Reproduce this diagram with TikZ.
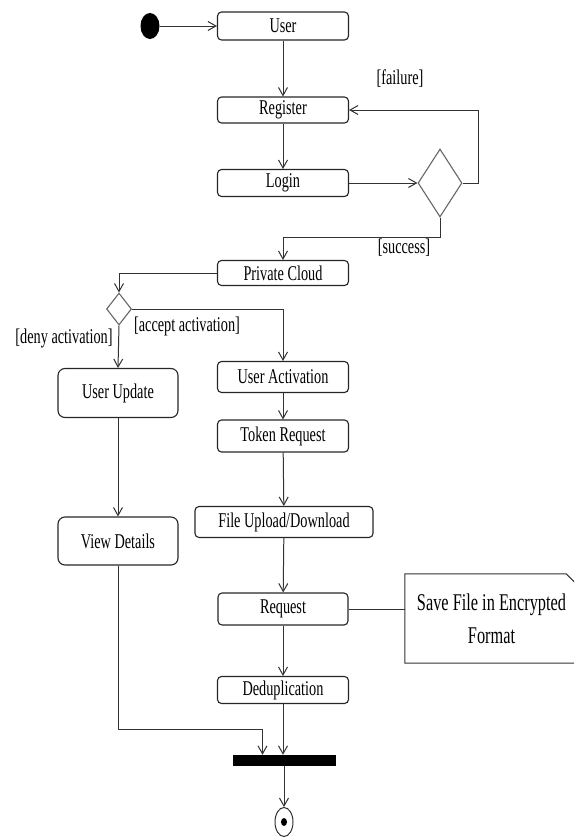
\documentclass[tikz,border=0pt]{standalone}
\usepackage{fontspec}
\setmainfont[FakeStretch=0.68]{Liberation Serif}
\usetikzlibrary{arrows.meta,shapes.geometric}
\newcommand{\boxfont}{\fontsize{21}{24}\selectfont}
\newcommand{\notefont}{\fontsize{24}{33}\selectfont}
\tikzset{
 every node/.append style={font=\boxfont,align=center},
 act/.style={draw=black!85,rounded corners=4pt,line width=1.1pt,inner sep=0pt,minimum width=131pt,minimum height=28pt},
 bigact/.style={act,rounded corners=7pt,minimum width=120pt,minimum height=49pt},
 choice/.style={diamond,draw=black!60,line width=1.1pt,inner sep=0pt,aspect=0.65},
 guard/.style={inner sep=1pt},
 flow/.style={-{Straight Barb[length=8pt,width=9pt]},draw=black!80,line width=1pt},
 link/.style={draw=black!80,line width=1pt},
}

\begin{document}
\begin{tikzpicture}[x=1pt,y=-1pt]
\clip (0,0) rectangle (574,838);

% start and main column
\node[ellipse,fill=black,minimum width=19pt,minimum height=26pt,inner sep=0pt] (start) at (150,26) {};
\node[act] (user) at (283,26) {User};
\node[act,minimum height=26pt] (register) at (283,110) {Register};
\node[act,minimum height=27pt] (login) at (283,183) {Login};
\node[choice,minimum width=44pt,minimum height=68pt] (check) at (440,183) {};
\node[act,minimum height=25pt] (cloud) at (283,273) {Private Cloud};

\draw[flow] (start) -- (user);
\draw[flow] (user) -- (register);
\draw[flow] (register) -- (login);
\draw[flow] (login) -- (check);
\draw[flow] (check.east) -- ++(16,0) |- (register.east);
\draw[flow] (check.south) -- ++(0,20) -| (cloud.north);
\node[guard] (failure) at (400,79) {[failure]};
\node[guard] (success) at (404,248) {[success]};

% activation decision
\node[choice,minimum width=25pt,minimum height=32pt] (activate) at (119,309) {};
\draw[flow] (cloud.west) -| (activate.north);
\node[guard] (accept) at (187,326) {[accept activation]};
\node[guard] (deny) at (64,338) {[deny activation]};

\node[bigact] (update) at (118,393) {User Update};
\node[bigact,minimum height=48pt] (details) at (118,541) {View Details};
\draw[flow] (activate.south) -- (update.north);
\draw[flow] (update) -- (details);

\node[act,minimum height=31pt] (activation) at (283,377) {User Activation};
\node[act,minimum height=32pt] (token) at (283,436) {Token Request};
\node[act,minimum width=178pt,minimum height=31pt] (upload) at (284,522) {File Upload/Download};
\node[act,minimum width=130pt,minimum height=32pt] (request) at (283,609) {Request};
\node[act,minimum height=27pt] (dedup) at (283,690) {Deduplication};
\draw[flow] (activate.east) -| (activation.north);
\draw[flow] (activation) -- (token);
\draw[flow] (token) -- (upload);
\draw[flow] (upload) -- (request);
\draw[flow] (request) -- (dedup);

% note
\node[inner sep=0pt,minimum width=173pt,minimum height=89pt,font=\notefont] (note) at (491.5,618.5) {Save File in Encrypted\\Format};
\draw[link] (note.north west) -- ([xshift=-12pt]note.north east) -- ([yshift=-12pt]note.north east)
  -- (note.south east) -- (note.south west) -- cycle;
\draw[link] (request.east) -- (request.east -| note.west);

% join and end
\node[fill=black,inner sep=0pt,minimum width=103pt,minimum height=11pt] (join) at (284.5,760.5) {};
\node[ellipse,draw=black!80,line width=1pt,minimum width=18pt,minimum height=29pt,inner sep=0pt] (final) at (284,822) {};
\fill (final) ellipse (3 and 4);
\draw[flow] (details.south) |- ([xshift=-22pt,yshift=25pt]join.north) -- ([xshift=-22pt]join.north);
\draw[flow] (dedup.south) -- (dedup.south |- join.north);
\draw[flow] (join.south -| final) -- (final);

\end{tikzpicture}
\end{document}
